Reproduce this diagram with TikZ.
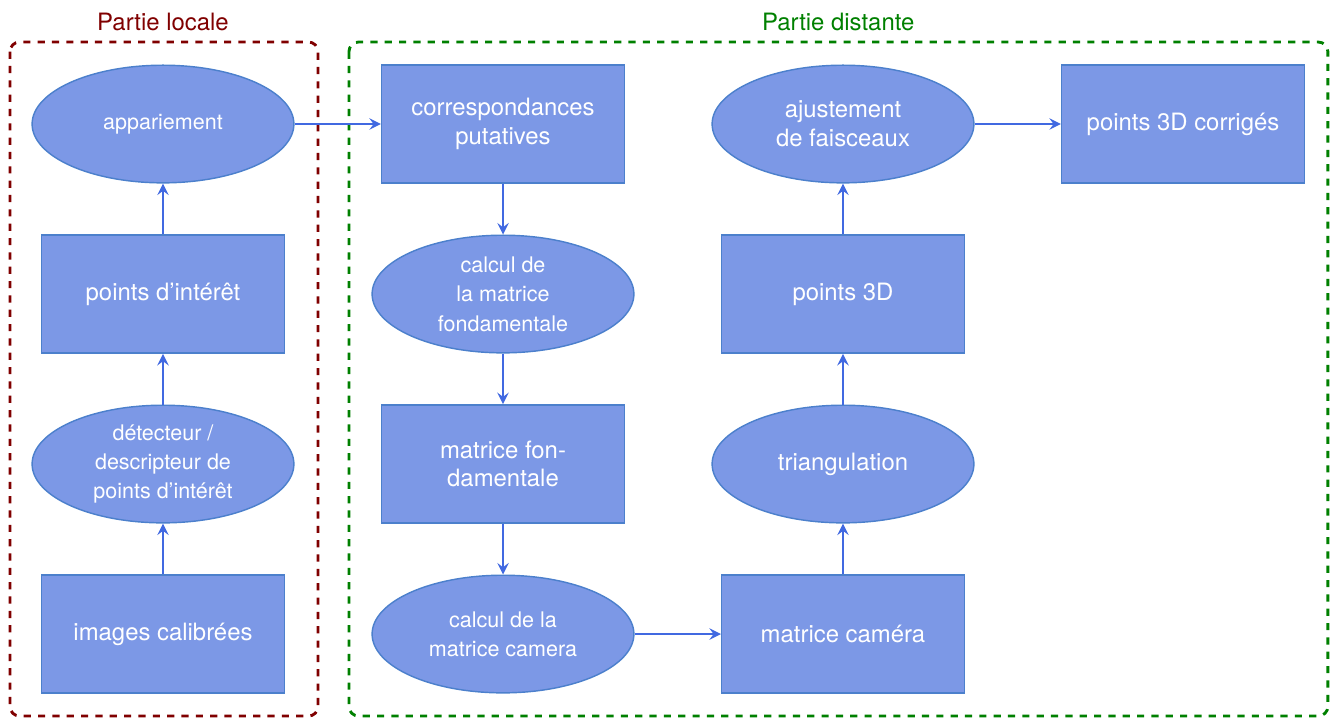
\documentclass[tikz,border=0pt]{standalone}
\usepackage{fontspec}
\setmainfont{TeX Gyre Heros}
\usepackage{tikz}
\usetikzlibrary{shapes.geometric}

\definecolor{remplissage}{RGB}{124,152,230}
\definecolor{bordure}{RGB}{76,128,204}
\definecolor{trait}{RGB}{65,105,225}
\definecolor{rougelocal}{RGB}{128,0,0}
\definecolor{vertdistant}{RGB}{0,128,0}

\begin{document}
\begin{tikzpicture}[
    x=5cm,y=2.5cm,
    boite/.style={draw=bordure,fill=remplissage,text=white,line width=.6pt,
      minimum width=3.57cm,minimum height=1.74cm,align=center},
    bulle/.style={ellipse,draw=bordure,fill=remplissage,text=white,line width=.6pt,
      minimum width=3.85cm,minimum height=1.73cm,inner sep=0pt,align=center,
      font=\fontsize{9}{12.3}\selectfont},
    fleche/.style={-stealth,line width=1.1pt,trait},
    cadre/.style={dashed,line width=1.2pt,rounded corners=4pt}
    ]
    \useasboundingbox (-2.397cm,1.824cm) rectangle (17.25cm,-8.735cm);
    \draw[cadre,rougelocal] (-2.25cm,1.206cm) rectangle (2.28cm,-8.706cm);
    \draw[cadre,vertdistant] (2.735cm,1.206cm) rectangle (17.13cm,-8.706cm);
    \node[text=rougelocal] (titrelocal) at (0,0.6) {Partie locale};
    \node[text=vertdistant] (titredistant) at (1.986,0.6) {Partie distante};
    \node[bulle] (appariement) at (0,0) {appariement};
    \node[boite] (points) at (0,-1) {points d'intérêt};
    \node[bulle] (detecteur) at (0,-2) {détecteur /\\descripteur de\\points d'intérêt};
    \node[boite] (images) at (0,-3) {images calibrées};
    \node[boite] (correspondances) at (1,0) {correspondances\\putatives};
    \node[bulle] (calculfond) at (1,-1) {calcul de\\la matrice\\fondamentale};
    \node[boite] (matfond) at (1,-2) {matrice fon-\\damentale};
    \node[bulle] (calculcam) at (1,-3) {calcul de la\\matrice camera};
    \node[bulle,font=\normalsize] (ajustement) at (2,0) {ajustement\\de faisceaux};
    \node[boite] (points3d) at (2,-1) {points 3D};
    \node[bulle,font=\normalsize] (triangulation) at (2,-2) {triangulation};
    \node[boite] (matcam) at (2,-3) {matrice caméra};
    \node[boite] (corriges) at (3,0) {points 3D corrigés};
    \draw[fleche] (images) -- (detecteur);
    \draw[fleche] (detecteur) -- (points);
    \draw[fleche] (points) -- (appariement);
    \draw[fleche] (appariement) -- (correspondances);
    \draw[fleche] (correspondances) -- (calculfond);
    \draw[fleche] (calculfond) -- (matfond);
    \draw[fleche] (matfond) -- (calculcam);
    \draw[fleche] (calculcam) -- (matcam);
    \draw[fleche] (matcam) -- (triangulation);
    \draw[fleche] (triangulation) -- (points3d);
    \draw[fleche] (points3d) -- (ajustement);
    \draw[fleche] (ajustement) -- (corriges);
  \end{tikzpicture}
\end{document}
